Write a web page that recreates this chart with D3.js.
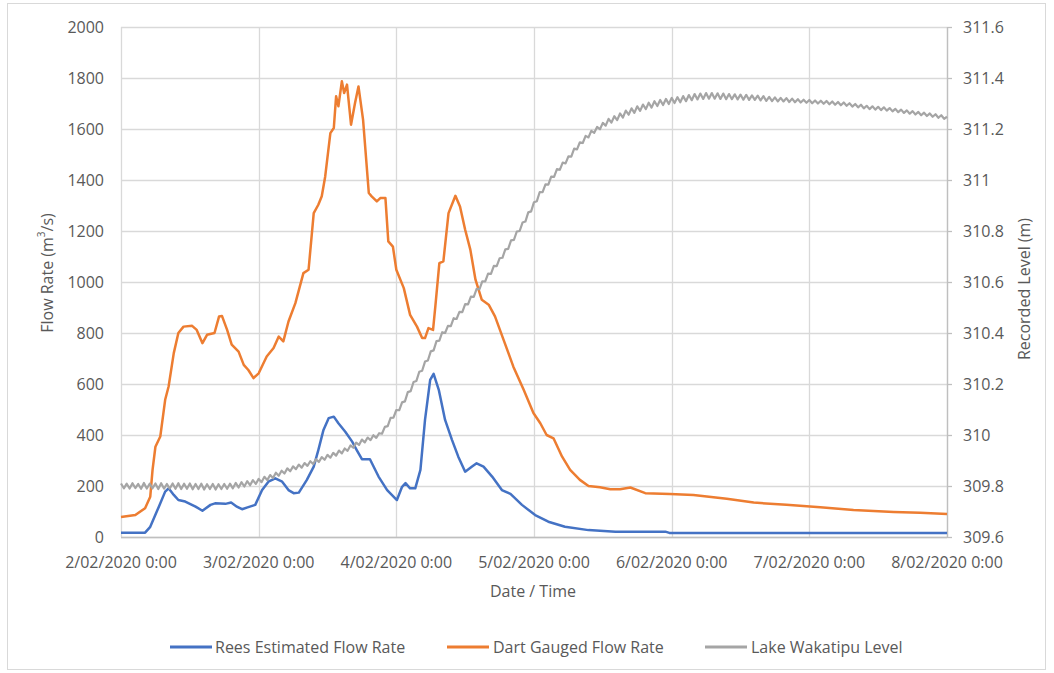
<!DOCTYPE html>
<html>
<head>
<meta charset="utf-8">
<script src="https://cdn.jsdelivr.net/npm/d3@7"></script>
<style>
  html, body { margin: 0; padding: 0; background: #ffffff; }
  svg { display: block; }
  text { font-family: "Open Sans", "DejaVu Sans", sans-serif; fill: #595959; }
</style>
</head>
<body>
<svg id="chart" width="1054" height="673"></svg>
<script>
// ---------------- DATA (hours after 2/02/2020 0:00) ----------------
const startDate = [2020, 1, 2];
const dayTickLabels = ["2/02/2020 0:00", "3/02/2020 0:00", "4/02/2020 0:00", "5/02/2020 0:00",
                       "6/02/2020 0:00", "7/02/2020 0:00", "8/02/2020 0:00"];
const leftTicks = [0, 200, 400, 600, 800, 1000, 1200, 1400, 1600, 1800, 2000];
const rightTicks = [309.6, 309.8, 310, 310.2, 310.4, 310.6, 310.8, 311, 311.2, 311.4, 311.6];
const rightTickLabels = ["309.6", "309.8", "310", "310.2", "310.4", "310.6", "310.8", "311", "311.2", "311.4", "311.6"];

const reesHours = [0, 4.2, 5.1, 6.6, 7.7, 8.3, 9.2, 10, 11.2, 13, 14.2, 15.6, 16.4, 18.2, 19.2, 20.2, 21.1, 22.2, 23.4,
  24.6, 25.7, 26.9, 28.1, 29.2, 30.1, 31, 32.4, 33.6, 34.4, 35.3, 36.2, 37.1, 37.9, 39.1, 40.3, 41.1, 42, 43.4,
  44.9, 46.4, 48.1, 49, 49.6, 50.4, 51.3, 52.2, 53, 53.9, 54.5, 55.4, 56.5, 57.7, 58.8, 60, 61.2, 62, 63.2, 64.7,
  66.4, 67.9, 69.9, 72.2, 74.5, 77.4, 81.5, 86.2, 94.9, 95.6, 144];
const reesFlow = [17, 17, 40, 119, 178, 191, 165, 145, 139, 119, 103, 126, 132, 130, 135, 119, 109, 117, 126,
  184, 217, 230, 217, 184, 172, 174, 224, 276, 341, 420, 466, 472, 446, 413, 374, 341, 305, 305,
  237, 184, 145, 197, 211, 191, 191, 263, 459, 616, 640, 577, 459, 381, 315, 256, 276, 289, 276, 237,
  184, 169, 126, 86, 60, 40, 27, 21, 21, 16, 16];

const dartHours = [0, 2.5, 4.2, 5.1, 5.5, 6, 6.85, 7.7, 8.3, 9.2, 10, 10.9, 12.4, 13.2, 14.2, 15, 16.3, 17.1, 17.6,
  18.5, 19.3, 20.5, 21.4, 22.2, 23.1, 24, 25.4, 26.6, 27.5, 28.3, 29.2, 30.4, 31.8, 32.7, 33.6, 34.4, 35, 35.6,
  36.5, 37.1, 37.5, 37.9, 38.5, 38.9, 39.4, 40.1, 40.8, 41.4, 42.2, 43.2, 43.7, 44.6, 45.2, 46.1, 46.6, 47.4,
  48, 49.3, 50.4, 51.6, 52.5, 53, 53.6, 54.4, 54.8, 55.5, 56.2, 57.1, 58.3, 59.1, 60, 60.9, 61.8, 62.9, 64.1,
  65.2, 66.7, 68.4, 70.2, 71.9, 73.1, 74.2, 75.4, 76.9, 78.3, 80, 81.5, 83.5, 85.3, 87, 88.8, 91.4, 95.7, 99.8,
  105.6, 110.3, 116, 121.9, 127.7, 134.7, 139.3, 144];
const dartFlow = [78, 86, 113, 158, 263, 354, 394, 538, 590, 721, 800, 825, 828, 812, 760, 793, 800, 865, 867,
  812, 754, 727, 675, 655, 623, 642, 708, 741, 786, 767, 845, 917, 1035, 1048, 1270, 1303, 1336, 1414,
  1584, 1604, 1728, 1689, 1787, 1741, 1774, 1617, 1702, 1767, 1637, 1349, 1336, 1316, 1329, 1329, 1159, 1139,
  1048, 976, 871, 825, 780, 780, 819, 812, 904, 1074, 1081, 1270, 1338, 1296, 1205, 1127, 1009, 930, 911,
  865, 773, 668, 577, 486, 446, 400, 387, 315, 263, 224, 200, 195, 187, 187, 194, 172, 169, 165,
  150, 135, 126, 117, 106, 98, 95, 90];

// Lake Wakatipu level, one reading every half hour from 2/02/2020 0:00
const lakeStepHours = 0.5;
const lakeLevel = [
  309.810, 309.791, 309.809, 309.790, 309.811, 309.792, 309.808, 309.789, 309.812, 309.790,
  309.809, 309.791, 309.810, 309.788, 309.811, 309.790, 309.808, 309.790, 309.810, 309.789,
  309.811, 309.788, 309.809, 309.789, 309.810, 309.787, 309.808, 309.788, 309.809, 309.786,
  309.807, 309.788, 309.808, 309.786, 309.807, 309.788, 309.808, 309.789, 309.809, 309.791,
  309.812, 309.794, 309.815, 309.798, 309.819, 309.803, 309.823, 309.808, 309.828, 309.815,
  309.836, 309.823, 309.843, 309.831, 309.852, 309.840, 309.860, 309.849, 309.869, 309.858,
  309.877, 309.866, 309.884, 309.872, 309.890, 309.879, 309.897, 309.886, 309.905, 309.894,
  309.913, 309.903, 309.922, 309.911, 309.930, 309.919, 309.939, 309.928, 309.947, 309.938,
  309.959, 309.950, 309.970, 309.961, 309.982, 309.971, 309.990, 309.980, 309.999, 309.989,
  310.007, 310.005, 310.032, 310.035, 310.067, 310.068, 310.098, 310.097, 310.128, 310.132,
  310.168, 310.172, 310.208, 310.212, 310.248, 310.252, 310.288, 310.292, 310.328, 310.332,
  310.368, 310.370, 310.403, 310.400, 310.428, 310.427, 310.458, 310.455, 310.483, 310.482,
  310.513, 310.512, 310.543, 310.542, 310.573, 310.572, 310.603, 310.602, 310.633, 310.632,
  310.663, 310.662, 310.693, 310.695, 310.728, 310.730, 310.763, 310.765, 310.798, 310.800,
  310.833, 310.837, 310.873, 310.877, 310.913, 310.917, 310.953, 310.952, 310.983, 310.982,
  311.013, 311.012, 311.043, 311.040, 311.068, 311.065, 311.093, 311.092, 311.123, 311.120,
  311.148, 311.145, 311.173, 311.167, 311.193, 311.185, 311.208, 311.199, 311.224, 311.213,
  311.240, 311.225, 311.250, 311.235, 311.261, 311.245, 311.272, 311.256, 311.281, 311.263,
  311.289, 311.271, 311.296, 311.278, 311.303, 311.284, 311.309, 311.290, 311.314, 311.294,
  311.318, 311.298, 311.322, 311.302, 311.325, 311.305, 311.329, 311.309, 311.333, 311.313,
  311.337, 311.316, 311.339, 311.318, 311.341, 311.319, 311.341, 311.319, 311.340, 311.318,
  311.339, 311.317, 311.337, 311.317, 311.336, 311.316, 311.335, 311.315, 311.334, 311.314,
  311.332, 311.314, 311.331, 311.312, 311.329, 311.310, 311.326, 311.309, 311.324, 311.308,
  311.322, 311.308, 311.321, 311.306, 311.319, 311.305, 311.317, 311.304, 311.315, 311.303,
  311.314, 311.301, 311.312, 311.300, 311.311, 311.299, 311.310, 311.297, 311.308, 311.295,
  311.306, 311.293, 311.304, 311.291, 311.301, 311.288, 311.298, 311.285, 311.295, 311.281,
  311.291, 311.278, 311.289, 311.276, 311.287, 311.274, 311.285, 311.272, 311.282, 311.269,
  311.279, 311.266, 311.276, 311.263, 311.273, 311.260, 311.270, 311.257, 311.267, 311.254,
  311.264, 311.251, 311.261, 311.248, 311.258, 311.244, 311.254, 311.240, 311.248];

const seriesNames = ["Rees Estimated Flow Rate", "Dart Gauged Flow Rate", "Lake Wakatipu Level"];
const seriesColors = ["#4472C4", "#ED7D31", "#A5A5A5"];

// ---------------- CHART ----------------
const svg = d3.select("#chart");
const plot = { left: 121, right: 947, top: 27, bottom: 537 };

const t0 = new Date(startDate[0], startDate[1], startDate[2], 0, 0);
const hr = h => new Date(t0.getTime() + h * 3600000);

const x = d3.scaleTime().domain([t0, hr(144)]).range([plot.left, plot.right]);
const yL = d3.scaleLinear().domain([0, 2000]).range([plot.bottom, plot.top]);
const yR = d3.scaleLinear().domain([309.6, 311.6]).range([plot.bottom, plot.top]);

// outer frame
svg.append("rect").attr("x", 7.5).attr("y", 3.5).attr("width", 1038).attr("height", 666)
  .attr("fill", "#fff").attr("stroke", "#d9d9d9").attr("stroke-width", 1);

// horizontal gridlines
svg.append("g").selectAll("line").data(leftTicks).join("line")
  .attr("x1", plot.left).attr("x2", plot.right)
  .attr("y1", d => Math.round(yL(d)) + 0.5).attr("y2", d => Math.round(yL(d)) + 0.5)
  .attr("stroke", "#d9d9d9").attr("stroke-width", 1.3);

// vertical gridlines (one per day)
const dayDates = dayTickLabels.map((_, i) => hr(i * 24));
svg.append("g").selectAll("line").data(dayDates).join("line")
  .attr("x1", d => Math.round(x(d)) + 0.5).attr("x2", d => Math.round(x(d)) + 0.5)
  .attr("y1", plot.top).attr("y2", plot.bottom)
  .attr("stroke", "#d9d9d9").attr("stroke-width", 1.3);

// bottom axis line
svg.append("line").attr("x1", plot.left).attr("x2", plot.right)
  .attr("y1", plot.bottom + 0.5).attr("y2", plot.bottom + 0.5)
  .attr("stroke", "#bfbfbf").attr("stroke-width", 1.3);

// right axis line + ticks
svg.append("line").attr("x1", plot.right + 0.5).attr("x2", plot.right + 0.5)
  .attr("y1", plot.top).attr("y2", plot.bottom).attr("stroke", "#bfbfbf").attr("stroke-width", 1.3);
svg.append("g").selectAll("line").data(rightTicks).join("line")
  .attr("x1", plot.right).attr("x2", plot.right + 5)
  .attr("y1", d => Math.round(yR(d)) + 0.5).attr("y2", d => Math.round(yR(d)) + 0.5)
  .attr("stroke", "#bfbfbf").attr("stroke-width", 1.3);

// left tick labels
svg.append("g").selectAll("text").data(leftTicks).join("text")
  .attr("x", 104).attr("y", d => yL(d)).attr("dy", "0.36em")
  .attr("text-anchor", "end").attr("font-size", 16).text(d => d);

// right tick labels
svg.append("g").selectAll("text").data(rightTicks).join("text")
  .attr("x", 963).attr("y", d => yR(d)).attr("dy", "0.36em")
  .attr("text-anchor", "start").attr("font-size", 16).text((d, i) => rightTickLabels[i]);

// x tick labels
svg.append("g").selectAll("text").data(dayDates).join("text")
  .attr("x", d => x(d)).attr("y", 562).attr("dy", "0.36em")
  .attr("text-anchor", "middle").attr("font-size", 16).text((d, i) => dayTickLabels[i]);

// axis titles
svg.append("text").attr("x", 533).attr("y", 591).attr("dy", "0.36em")
  .attr("text-anchor", "middle").attr("font-size", 16).text("Date / Time");

const lt = svg.append("text").attr("transform", "translate(47,273) rotate(-90)")
  .attr("dy", "0.36em").attr("text-anchor", "middle").attr("font-size", 16);
lt.append("tspan").text("Flow Rate (m");
lt.append("tspan").attr("font-size", 10).attr("dy", "-0.75em").text("3");
lt.append("tspan").attr("dy", "0.47em").text("/s)");

svg.append("text").attr("transform", "translate(1024,289) rotate(-90)")
  .attr("dy", "0.36em").attr("text-anchor", "middle").attr("font-size", 16).text("Recorded Level (m)");

// lines
const lineL = d3.line().x(d => x(hr(d[0]))).y(d => yL(d[1]));
const lineR = d3.line().x(d => x(hr(d[0]))).y(d => yR(d[1]));

const reesData = reesHours.map((h, i) => [h, reesFlow[i]]);
const dartData = dartHours.map((h, i) => [h, dartFlow[i]]);
const lakeData = lakeLevel.map((v, i) => [i * lakeStepHours, v]);

svg.append("path").datum(reesData).attr("d", lineL)
  .attr("fill", "none").attr("stroke", seriesColors[0]).attr("stroke-width", 2.5)
  .attr("stroke-linejoin", "round");
svg.append("path").datum(dartData).attr("d", lineL)
  .attr("fill", "none").attr("stroke", seriesColors[1]).attr("stroke-width", 2.5)
  .attr("stroke-linejoin", "round");
svg.append("path").datum(lakeData).attr("d", lineR)
  .attr("fill", "none").attr("stroke", seriesColors[2]).attr("stroke-width", 2.2)
  .attr("stroke-linejoin", "round");

// legend
const legendItems = [
  { x0: 170, tx: 215 },
  { x0: 447, tx: 493 },
  { x0: 705, tx: 751 }
];
const lg = svg.append("g").selectAll("g").data(seriesNames).join("g");
lg.append("line").attr("x1", (d, i) => legendItems[i].x0).attr("x2", (d, i) => legendItems[i].x0 + 42)
  .attr("y1", 647).attr("y2", 647).attr("stroke", (d, i) => seriesColors[i]).attr("stroke-width", 3);
lg.append("text").attr("x", (d, i) => legendItems[i].tx).attr("y", 647).attr("dy", "0.36em")
  .attr("font-size", 16).text(d => d);
</script>
</body>
</html>
